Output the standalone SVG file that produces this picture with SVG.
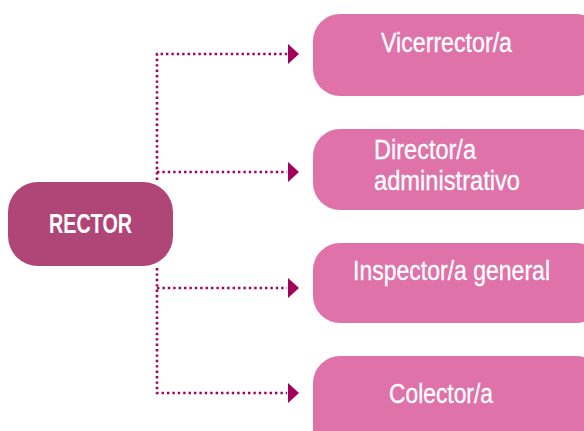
<svg xmlns="http://www.w3.org/2000/svg" width="584" height="431" viewBox="0 0 584 431">
<style>
.main{fill:#B04577}
.sub{fill:#DF73A9}
.t{font-family:"Liberation Sans Narrow","Liberation Sans",Arial,sans-serif;fill:#FFFFFF;font-size:27px;stroke:#FFFFFF;stroke-width:0.3}
.b{font-weight:bold;font-size:28px;stroke-width:0}
.c{fill:none;stroke:#A2005C;stroke-width:2.6;stroke-dasharray:2.4 3}
.ah{fill:#A2005C}
</style>
<defs>
<polygon id="arr" points="0,-10 11,0 0,10"/>
</defs>
<g id="connectors">
<path class="c" d="M157,180 V54 H287 M157,172 H287 M157,268 V393 H287 M157,288 H287"/>
<use href="#arr" class="ah" x="288" y="54"/>
<use href="#arr" class="ah" x="288" y="172"/>
<use href="#arr" class="ah" x="288" y="288"/>
<use href="#arr" class="ah" x="288" y="393"/>
</g>
<g id="rector">
<rect class="main" x="8" y="182" width="165" height="84" rx="30"/>
<text class="t b" x="49" y="233" textLength="83" lengthAdjust="spacingAndGlyphs">RECTOR</text>
</g>
<g id="vicerrector">
<rect class="sub" x="313" y="14" width="290" height="82" rx="27"/>
<text class="t" x="381" y="52" textLength="131" lengthAdjust="spacingAndGlyphs">Vicerrector/a</text>
</g>
<g id="director">
<rect class="sub" x="313" y="129" width="290" height="81" rx="27"/>
<text class="t" x="374" y="159" textLength="102" lengthAdjust="spacingAndGlyphs">Director/a</text>
<text class="t" x="374" y="190" textLength="146" lengthAdjust="spacingAndGlyphs">administrativo</text>
</g>
<g id="inspector">
<rect class="sub" x="313" y="243" width="290" height="80" rx="27"/>
<text class="t" x="353" y="280" textLength="197" lengthAdjust="spacingAndGlyphs">Inspector/a general</text>
</g>
<g id="colector">
<rect class="sub" x="313" y="356" width="290" height="100" rx="27"/>
<text class="t" x="389" y="403" textLength="104" lengthAdjust="spacingAndGlyphs">Colector/a</text>
</g>
</svg>
